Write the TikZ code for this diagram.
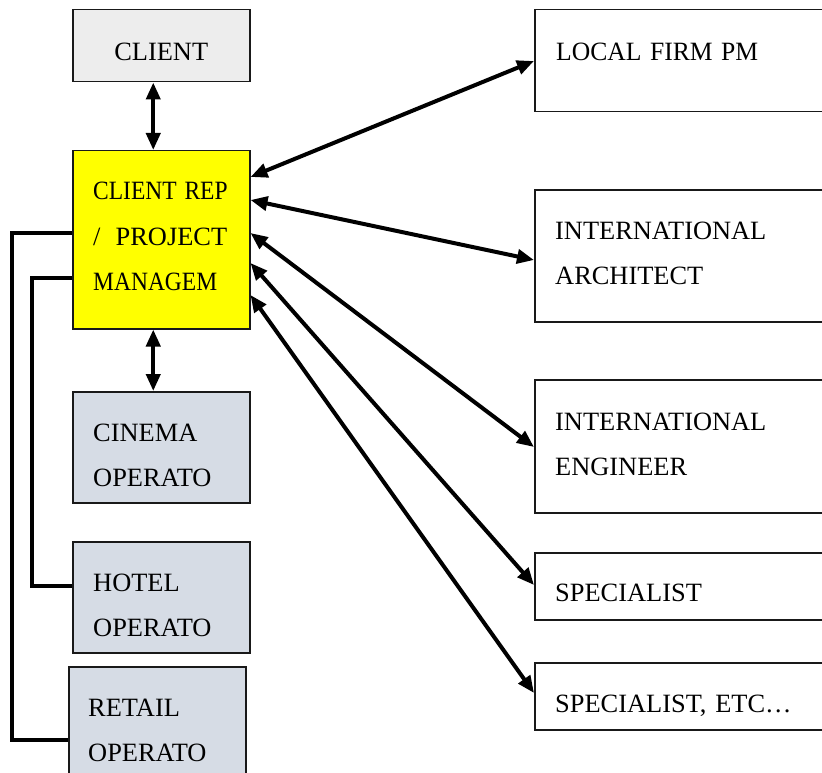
\documentclass[tikz,border=0pt]{standalone}
\usepackage{fontspec}
\setmainfont{Liberation Serif}
\usetikzlibrary{arrows.meta}
\definecolor{opgray}{HTML}{D6DCE5}
\definecolor{clgray}{HTML}{EDEDED}
\definecolor{repyellow}{RGB}{255,255,0}
\tikzset{
  box/.style={draw=black!90, line width=1.5pt, anchor=north west, inner sep=0pt},
  lbl/.style={anchor=base west, inner sep=0pt, text width=240pt, align=left},
  link/.style={line width=4pt, {Triangle[length=17pt,width=14pt]}-{Triangle[length=17pt,width=14pt]}},
  wire/.style={line width=4pt}
}
\begin{document}
\begin{tikzpicture}[x=1pt,y=-1pt,font=\fontsize{26.4pt}{45.5pt}\selectfont]
\useasboundingbox (0,0) rectangle (822,773);
% left column
\node[box, fill=clgray, minimum width=177, minimum height=72] (client) at (72,9) {};
\node[box, fill=repyellow, minimum width=177, minimum height=178] (rep) at (72,150) {};
\node[box, fill=opgray, minimum width=177, minimum height=111] (cinema) at (72,391) {};
\node[box, fill=opgray, minimum width=177, minimum height=111] (hotel) at (72,541) {};
\node[box, fill=opgray, minimum width=177, minimum height=130] (retail) at (68,666) {};
% right column
\node[box, minimum width=300, minimum height=102] (local) at (534,9) {};
\node[box, minimum width=300, minimum height=132] (arch) at (534,189) {};
\node[box, minimum width=300, minimum height=133] (eng) at (534,379) {};
\node[box, minimum width=300, minimum height=67] (spec) at (534,552) {};
\node[box, minimum width=300, minimum height=67] (etc) at (534,662) {};
% texts
\node[anchor=base, inner sep=0pt] (clientT) at ([yshift=-52pt]client.north) {CLIENT};
\node[lbl] (repT) at ([xshift=21pt,yshift=-50pt]rep.north west) {\scalebox{0.89}[1]{CLIENT REP}\\\makebox[134pt][l]{/\hfill PROJECT}\\\scalebox{0.89}[1]{MANAGEM}};
\node[lbl] (cinemaT) at ([xshift=21pt,yshift=-50pt]cinema.north west) {CINEMA\\OPERATO};
\node[lbl] (hotelT) at ([xshift=21pt,yshift=-50pt]hotel.north west) {HOTEL\\OPERATO};
\node[lbl] (retailT) at ([xshift=20pt,yshift=-50pt]retail.north west) {RETAIL\\OPERATO};
\node[lbl] (localT) at ([xshift=22pt,yshift=-52pt]local.north west) {\scalebox{0.97}[1]{LOCAL FIRM PM}};
\node[lbl] (archT) at ([xshift=21pt,yshift=-50pt]arch.north west) {INTERNATIONAL\\ARCHITECT};
\node[lbl] (engT) at ([xshift=21pt,yshift=-51pt]eng.north west) {INTERNATIONAL\\ENGINEER};
\node[lbl] (specT) at ([xshift=21pt,yshift=-49pt]spec.north west) {SPECIALIST};
\node[lbl] (etcT) at ([xshift=21pt,yshift=-50pt]etc.north west) {SPECIALIST, ETC\dots};
% vertical links
\draw[link] ([xshift=-8pt]client.south) -- ([xshift=-8pt]rep.north);
\draw[link] ([xshift=-8pt]rep.south) -- ([xshift=-8pt]cinema.north);
% links to the right
\draw[link] ([yshift=-27pt]rep.north east) -- ([yshift=-52pt]local.north west);
\draw[link] ([yshift=-50pt]rep.north east) -- ([yshift=-71pt]arch.north west);
\draw[link] ([yshift=-83pt]rep.north east) -- ([yshift=-68pt]eng.north west);
\draw[link] ([yshift=-113pt]rep.north east) -- ([yshift=-33pt]spec.north west);
\draw[link] ([yshift=-145pt]rep.north east) -- ([yshift=-31pt]etc.north west);
% operators
\draw[wire] ([yshift=-83pt]rep.north west) -- ++(-60,0) |- ([yshift=-74pt]retail.north west);
\draw[wire] ([yshift=-128pt]rep.north west) -- ++(-40,0) |- ([yshift=-45pt]hotel.north west);
\end{tikzpicture}
\end{document}
